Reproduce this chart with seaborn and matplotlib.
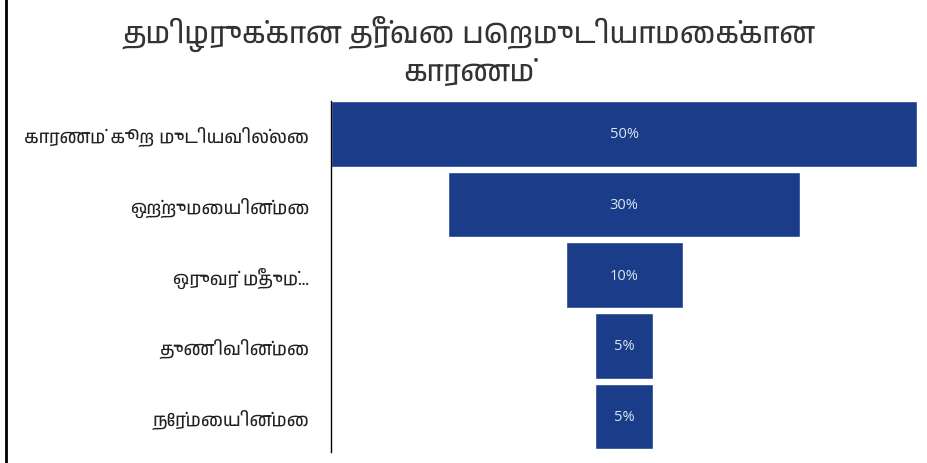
import matplotlib
matplotlib.use("Agg")
import matplotlib.pyplot as plt
from matplotlib import font_manager
from matplotlib.lines import Line2D
import seaborn as sns
import pandas as pd

reasons = ["காரணம் கூற முடியவில்லை", "ஒற்றுமையின்மை", "ஒருவர் மீதும்...",
           "துணிவின்மை", "நேர்மையின்மை"]
shares = [50, 30, 10, 5, 5]
share_labels = ["50%", "30%", "10%", "5%", "5%"]
title = "தமிழருக்கான தீர்வை பெறமுடியாமைக்கான\nகாரணம்"

# look for an installed font that actually has Tamil glyphs
tamil_fonts = []
try:
    from fontTools.ttLib import TTFont
    for f in font_manager.fontManager.ttflist:
        try:
            cmap = TTFont(f.fname, fontNumber=0, lazy=True).getBestCmap()
            if cmap and 0x0BA4 in cmap:
                tamil_fonts.append(f.name)
        except Exception:
            pass
except Exception:
    pass
tamil_fonts = sorted(set(tamil_fonts))
print("Tamil fonts:", tamil_fonts)

sns.set_theme(style="white")
plt.rcParams["font.family"] = tamil_fonts + ["DejaVu Sans"]

df = pd.DataFrame({"reason": reasons, "share": shares})

fig = plt.figure(figsize=(9.28, 4.64), dpi=100)
ax = fig.add_axes([0.357, 0.024, 0.631, 0.756])

sns.barplot(data=df, x="share", y="reason", orient="h", color="#1b3c89",
            saturation=1, width=0.93, ax=ax)

# centre each bar to get the funnel shape
top = max(shares)
for patch, label in zip(ax.patches, share_labels):
    w = patch.get_width()
    patch.set_x((top - w) / 2)
    ax.text(top / 2, patch.get_y() + patch.get_height() / 2, label,
            ha="center", va="center", color="#dbe6f5", fontsize=10.5,
            family=["Open Sans", "DejaVu Sans"])

ax.set_xlim(0, top)
ax.set_ylim(4.5, -0.465)
ax.set_xlabel("")
ax.set_ylabel("")
ax.set_xticks([])
ax.tick_params(axis="y", length=0, pad=16, labelsize=13, labelcolor="#222222")
for lbl in ax.get_yticklabels():
    lbl.set_fontweight("bold")
for side in ["top", "right", "bottom"]:
    ax.spines[side].set_visible(False)
ax.spines["left"].set_color("black")
ax.spines["left"].set_linewidth(1)

fig.text(0.505, 0.965, title, ha="center", va="top", fontsize=21,
         color="#333333", linespacing=1.25)

# picture frame on the left edge
fig.add_artist(Line2D([0.007, 0.007], [0, 1], color="black", lw=2,
                      transform=fig.transFigure))

fig.savefig("out.png", dpi=100)
